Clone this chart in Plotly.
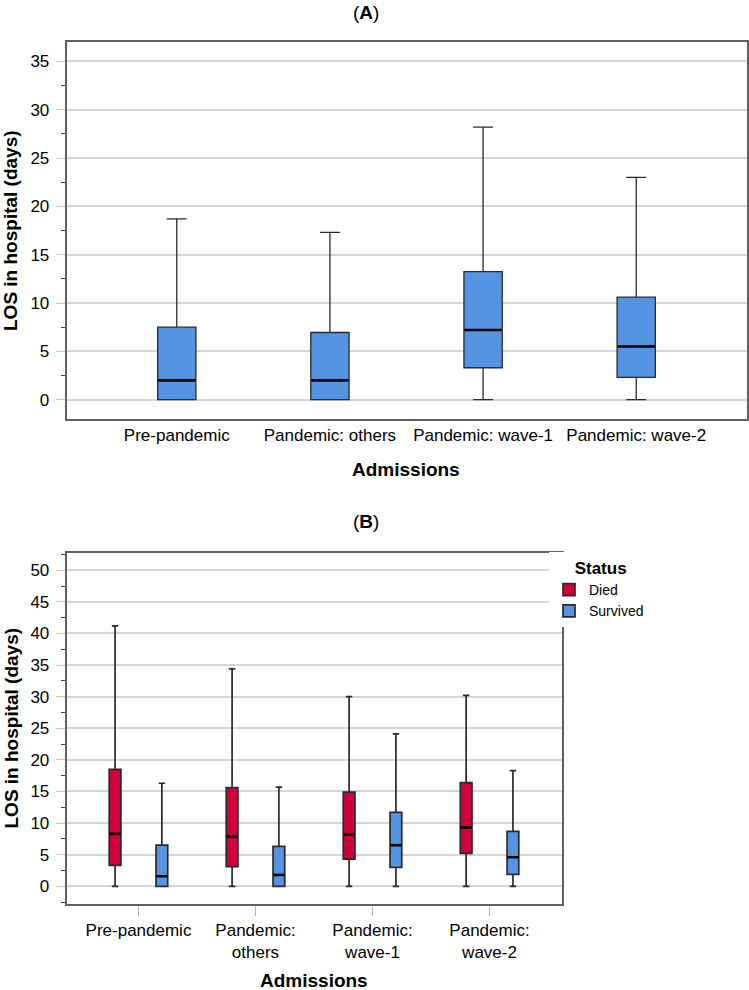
import plotly.graph_objects as go

# ---------------- data ----------------
cats_a = ["Pre-pandemic", "Pandemic: others", "Pandemic: wave-1", "Pandemic: wave-2"]
a_low = [0, 0, 0, 0]
a_q1 = [0, 0, 3.3, 2.3]
a_med = [2.0, 2.0, 7.2, 5.5]
a_q3 = [7.5, 6.95, 13.25, 10.6]
a_high = [18.7, 17.3, 28.2, 23.0]

cats_b = ["Pre-pandemic", "Pandemic:<br>others", "Pandemic:<br>wave-1", "Pandemic:<br>wave-2"]
died_low = [0, 0, 0, 0]
died_q1 = [3.3, 3.1, 4.3, 5.2]
died_med = [8.3, 7.9, 8.2, 9.3]
died_q3 = [18.5, 15.6, 14.9, 16.4]
died_high = [41.2, 34.4, 30.0, 30.2]

surv_low = [0, 0, 0, 0]
surv_q1 = [0, 0, 3.0, 1.9]
surv_med = [1.6, 1.8, 6.5, 4.6]
surv_q3 = [6.5, 6.3, 11.7, 8.7]
surv_high = [16.3, 15.7, 24.1, 18.3]

BLUE = "#5594E3"
RED = "#D2003A"
EDGE = "#2a2a2a"
FRAME = "#606060"
GRID = "#d6d6d6"
FONT = "Arial, Liberation Sans, sans-serif"

fig = go.Figure()

# ---------------- panel A ----------------
fig.add_trace(go.Box(
    x=cats_a, q1=a_q1, median=a_med, q3=a_q3, lowerfence=a_low, upperfence=a_high,
    xaxis="x", yaxis="y", width=0.25, whiskerwidth=0.52,
    fillcolor=BLUE, line=dict(color=EDGE, width=1.3),
    boxpoints=False, showlegend=False, hoverinfo="skip"))
fig.add_trace(go.Scatter(
    x=cats_a, y=a_med, xaxis="x", yaxis="y", mode="markers",
    marker=dict(symbol="line-ew", size=26.5, line=dict(color="black", width=2.6)),
    showlegend=False, hoverinfo="skip"))

# ---------------- panel B ----------------
fig.add_trace(go.Box(
    name="Died", x=cats_b, q1=died_q1, median=died_med, q3=died_q3,
    lowerfence=died_low, upperfence=died_high,
    xaxis="x2", yaxis="y2", offsetgroup="died", whiskerwidth=0.55,
    fillcolor=RED, line=dict(color=EDGE, width=1.7),
    boxpoints=False, hoverinfo="skip"))
fig.add_trace(go.Box(
    name="Survived", x=cats_b, q1=surv_q1, median=surv_med, q3=surv_q3,
    lowerfence=surv_low, upperfence=surv_high,
    xaxis="x2", yaxis="y2", offsetgroup="survived", whiskerwidth=0.55,
    fillcolor=BLUE, line=dict(color=EDGE, width=1.7),
    boxpoints=False, hoverinfo="skip"))
fig.add_trace(go.Scatter(
    x=cats_b, y=died_med, xaxis="x2", yaxis="y2", mode="markers",
    offsetgroup="died", orientation="v",
    marker=dict(symbol="line-ew", size=8, line=dict(color="black", width=2.6)),
    showlegend=False, hoverinfo="skip"))
fig.add_trace(go.Scatter(
    x=cats_b, y=surv_med, xaxis="x2", yaxis="y2", mode="markers",
    offsetgroup="survived", orientation="v",
    marker=dict(symbol="line-ew", size=8, line=dict(color="black", width=2.6)),
    showlegend=False, hoverinfo="skip"))

W, H = 749, 990
def px(xp):
    return xp / W
def py(yp):
    return 1 - yp / H

yaxis_common = dict(
    showline=True, linecolor=FRAME, linewidth=1.6, mirror=True,
    showgrid=True, gridcolor=GRID, gridwidth=1.5, zeroline=False,
    ticks="outside", ticklen=9, tickcolor="#c8c8c8", tickwidth=1.2,
    dtick=5, tick0=0, ticklabelstandoff=3,
    minor=dict(dtick=2.5, tick0=0, ticks="outside", ticklen=4, tickcolor="#444", tickwidth=1.2, showgrid=False),
    tickfont=dict(size=17, color="black", family=FONT),
    automargin=False, fixedrange=True,
)

fig.update_layout(
    width=W, height=H, autosize=False,
    margin=dict(l=0, r=0, t=0, b=0),
    paper_bgcolor="white", plot_bgcolor="white",
    font=dict(family=FONT, color="black"),
    boxmode="group", boxgap=0.2, boxgroupgap=0.75,
    scattermode="group", scattergap=0.2,
    xaxis=dict(
        domain=[px(66.5), px(746.5)], anchor="y", type="category",
        range=[-0.72, 3.72], showline=True, linecolor=FRAME, linewidth=1.6, mirror=True,
        showgrid=False, zeroline=False, ticks="",
        tickfont=dict(size=17, color="black", family=FONT), automargin=False,
    ),
    yaxis=dict(domain=[py(419), py(42)], anchor="x", range=[-2, 37], **yaxis_common),
    xaxis2=dict(
        domain=[px(66.5), px(561.5)], anchor="y2", type="category",
        range=[-0.615, 3.615], showline=True, linecolor=FRAME, linewidth=1.6, mirror=True,
        showgrid=False, zeroline=False, ticks="outside", ticklen=10, tickcolor="#b8b8b8", tickwidth=1.2,
        tickfont=dict(size=17, color="black", family=FONT), automargin=False,
    ),
    xaxis3=dict(
        domain=[px(66.5), px(561.5)], anchor="y2", overlaying="x2", type="linear",
        range=[-0.615, 3.615], tick0=-0.5, dtick=1, ticks="outside", ticklen=6,
        tickcolor="#444", tickwidth=1.2, showticklabels=False, showgrid=False,
        showline=False, zeroline=False, automargin=False,
    ),
    yaxis2=dict(domain=[py(904), py(552.5)], anchor="x2", range=[-2.8, 52.8], **yaxis_common),
    legend=dict(
        x=px(549), xanchor="left", y=py(552), yanchor="top",
        bgcolor="white", borderwidth=0,
        title=dict(text="\u00a0\u00a0\u00a0\u00a0\u00a0<b>Status</b>", font=dict(size=17, color="black", family=FONT)),
        font=dict(size=14, color="black", family=FONT),
        tracegroupgap=0, itemwidth=30,
    ),
    annotations=[
        dict(text="(<b>A</b>)", x=px(366), y=py(12.5), xref="paper", yref="paper",
             showarrow=False, xanchor="center", yanchor="middle", font=dict(size=19)),
        dict(text="(<b>B</b>)", x=px(366), y=py(521.7), xref="paper", yref="paper",
             showarrow=False, xanchor="center", yanchor="middle", font=dict(size=19)),
        dict(text="<b>Admissions</b>", x=px(406.5), y=py(469), xref="paper", yref="paper",
             showarrow=False, xanchor="center", yanchor="middle", font=dict(size=19)),
        dict(text="<b>Admissions</b>", x=px(314), y=py(980), xref="paper", yref="paper",
             showarrow=False, xanchor="center", yanchor="middle", font=dict(size=19)),
        dict(text="<b>LOS in hospital (days)</b>", x=px(10.5), y=py(230.5), xref="paper", yref="paper",
             showarrow=False, xanchor="center", yanchor="middle", textangle=-90, font=dict(size=19)),
        dict(text="<b>LOS in hospital (days)</b>", x=px(10.5), y=py(728), xref="paper", yref="paper",
             showarrow=False, xanchor="center", yanchor="middle", textangle=-90, font=dict(size=19)),
    ],
)

# remove the default 8px page margin so the figure sits at the window's top-left corner
fig.write_html("out.html", config={"displayModeBar": False},
               post_script="document.body.style.margin='0';")
